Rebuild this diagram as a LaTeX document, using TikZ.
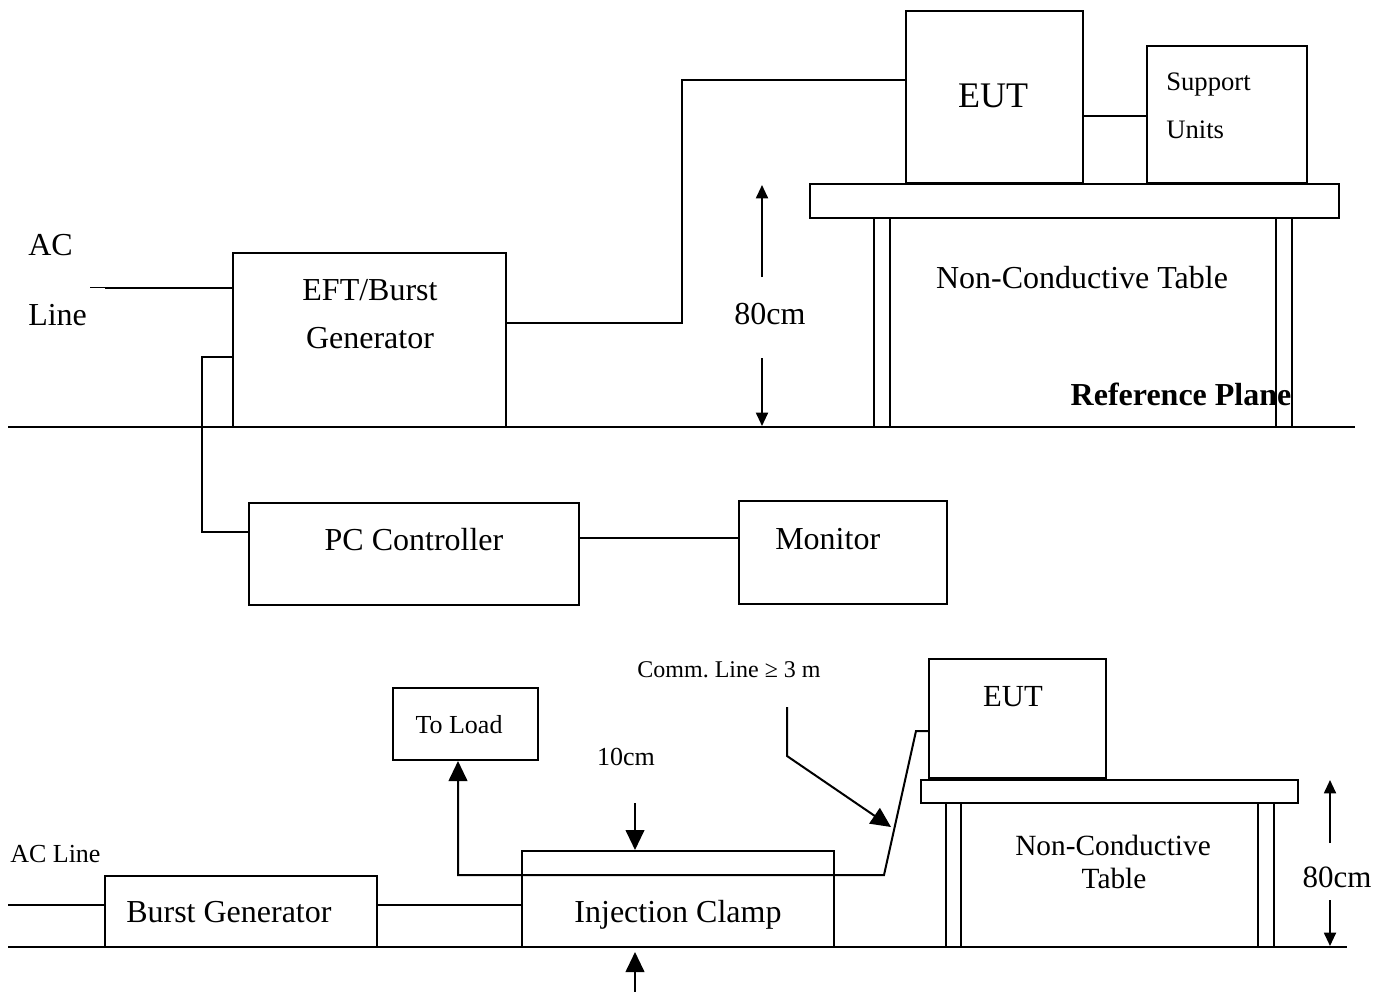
\documentclass[tikz,border=0pt]{standalone}
\usepackage{fontspec}
\setmainfont{Liberation Serif}
\usetikzlibrary{arrows.meta,fit}
\begin{document}
\begin{tikzpicture}[x=0.75pt,y=-0.75pt,
  box/.style={draw, line width=1.5pt, inner sep=0pt},
  wire/.style={line width=2pt},
  thinwire/.style={line width=1.5pt},
  dimarr/.style={line width=1.4pt, -{Triangle[length=10pt,width=9pt]}},
  bigarr/.style={line width=1.5pt, -{Triangle[length=15pt,width=14pt]}},
  lbl/.style={inner sep=0pt, anchor=base, font=\fontsize{24}{28}\selectfont},
  lblw/.style={lbl, anchor=base west},
  fs/.style={font=\fontsize{#1}{#1}\selectfont}
]
\useasboundingbox (0,0) rectangle (1385,992);
% ---------- top setup ----------
\node[box, fit={(233,253) (506,427)}] (eft) {};
\node[box, fit={(906,11) (1083,183)}] (eut) {};
\node[box, fit={(1147,46) (1307,183)}] (sup) {};
\node[box, fit={(810,184) (1339,218)}] (table) {};
\node[box, fit={(874,218) (890,427)}] (legA) {};
\node[box, fit={(1276,218) (1292,427)}] (legB) {};
\node[box, fit={(249,503) (579,605)}] (pc) {};
\node[box, fit={(739,501) (947,604)}] (mon) {};
\coordinate (acend) at (105,288);
\coordinate (acthin) at (90,287);
\coordinate (gA) at (8,427);
\coordinate (gB) at (1355,427);
\draw[thinwire] (gA) -- (gB);
\draw[line width=0.7pt] (acthin) -- (105,287);
\draw[wire] (acend) -- (eft.west |- 0,288);
\draw[wire] (eft.west |- 0,357) -- (202,357) -- (202,532) -- (pc.west |- 0,532);
\draw[wire] (eft.east |- 0,323) -- (682,323) -- (682,80) -- (eut.west |- 0,80);
\draw[thinwire] (eut.east |- 0,116) -- (sup.west |- 0,116);
\draw[wire] (pc.east |- 0,538) -- (mon.west |- 0,538);
\coordinate (d1) at (762,277);
\coordinate (d2) at (762,358);
\draw[dimarr] (d1) -- (762,185);
\draw[dimarr] (d2) -- (762,426);
\node[lblw] (tac) at (28,255) {AC};
\node[lblw] (tline) at (28,325) {Line};
\node[lbl] (teft) at (370,300) {EFT/Burst};
\node[lbl] (tgen) at (370,348) {Generator};
\node[lbl, fs=27] (teut) at (993,107) {EUT};
\node[lblw, fs=20] (tsup) at (1166,90) {Support};
\node[lblw, fs=20] (tunits) at (1166,138) {Units};
\node[lbl] (ttable) at (1082,288) {Non-Conductive Table};
\node[lbl, font=\fontsize{24}{28}\selectfont\bfseries] (tref) at (1181,405) {Reference Plane};
\node[lbl] (t80) at (770,324) {80cm};
\node[lbl] (tpc) at (414,550) {PC Controller};
\node[lblw] (tmon) at (775,549) {Monitor};
% ---------- bottom setup ----------
\node[box, fit={(105,876) (377,947)}] (burst) {};
\node[box, fit={(522,875) (834,947)}] (clamp) {};
\node[box, fit={(522,851) (834,875)}] (clamptop) {};
\node[box, fit={(393,688) (538,760)}] (load) {};
\node[box, fit={(929,659) (1106,778)}] (eutb) {};
\node[box, fit={(921,780) (1298,803)}] (tableb) {};
\node[box, fit={(946,803) (961,947)}] (legC) {};
\node[box, fit={(1258,803) (1274,947)}] (legD) {};
\coordinate (hA) at (8,947);
\coordinate (hB) at (1347,947);
\draw[thinwire] (hA) -- (hB);
\coordinate (acb) at (8,905);
\draw[thinwire] (acb) -- (burst.west |- 0,905);
\draw[thinwire] (burst.east |- 0,905) -- (clamp.west |- 0,905);
\draw[bigarr] (eutb.west |- 0,731) -- (916,731) -- (884,875) -- (458,875) -- (load.south -| 458,0);
\coordinate (tenA) at (635,803);
\draw[bigarr] (tenA) -- (clamptop.north -| 635,0);
\coordinate (tenB) at (635,992);
\draw[bigarr] (tenB) -- (635,952);
\coordinate (cm) at (787,707);
\draw[bigarr] (cm) -- (787,756) -- (891,827);
\coordinate (e1) at (1330,843);
\coordinate (e2) at (1330,900);
\draw[dimarr] (e1) -- (1330,780);
\draw[dimarr] (e2) -- (1330,946);
\node[lbl, fs=18] (tcomm) at (729,677) {Comm.\ Line ≥ 3 m};
\node[lbl, fs=19.5] (tload) at (459,733) {To Load};
\node[lbl, fs=19.5] (t10) at (626,765) {10cm};
\node[lbl] (tclamp) at (678,922) {Injection Clamp};
\node[lblw, fs=19.5] (tacb) at (10,862) {AC Line};
\node[lblw] (tburst) at (126,922) {Burst Generator};
\node[lbl, fs=23] (teutb) at (1013,706) {EUT};
\node[lbl, fs=22] (tnc) at (1113,855) {Non-Conductive};
\node[lbl, fs=22] (ttb) at (1114,888) {Table};
\node[lbl, fs=23.25] (t80b) at (1337,887) {80cm};
\end{tikzpicture}
\end{document}
